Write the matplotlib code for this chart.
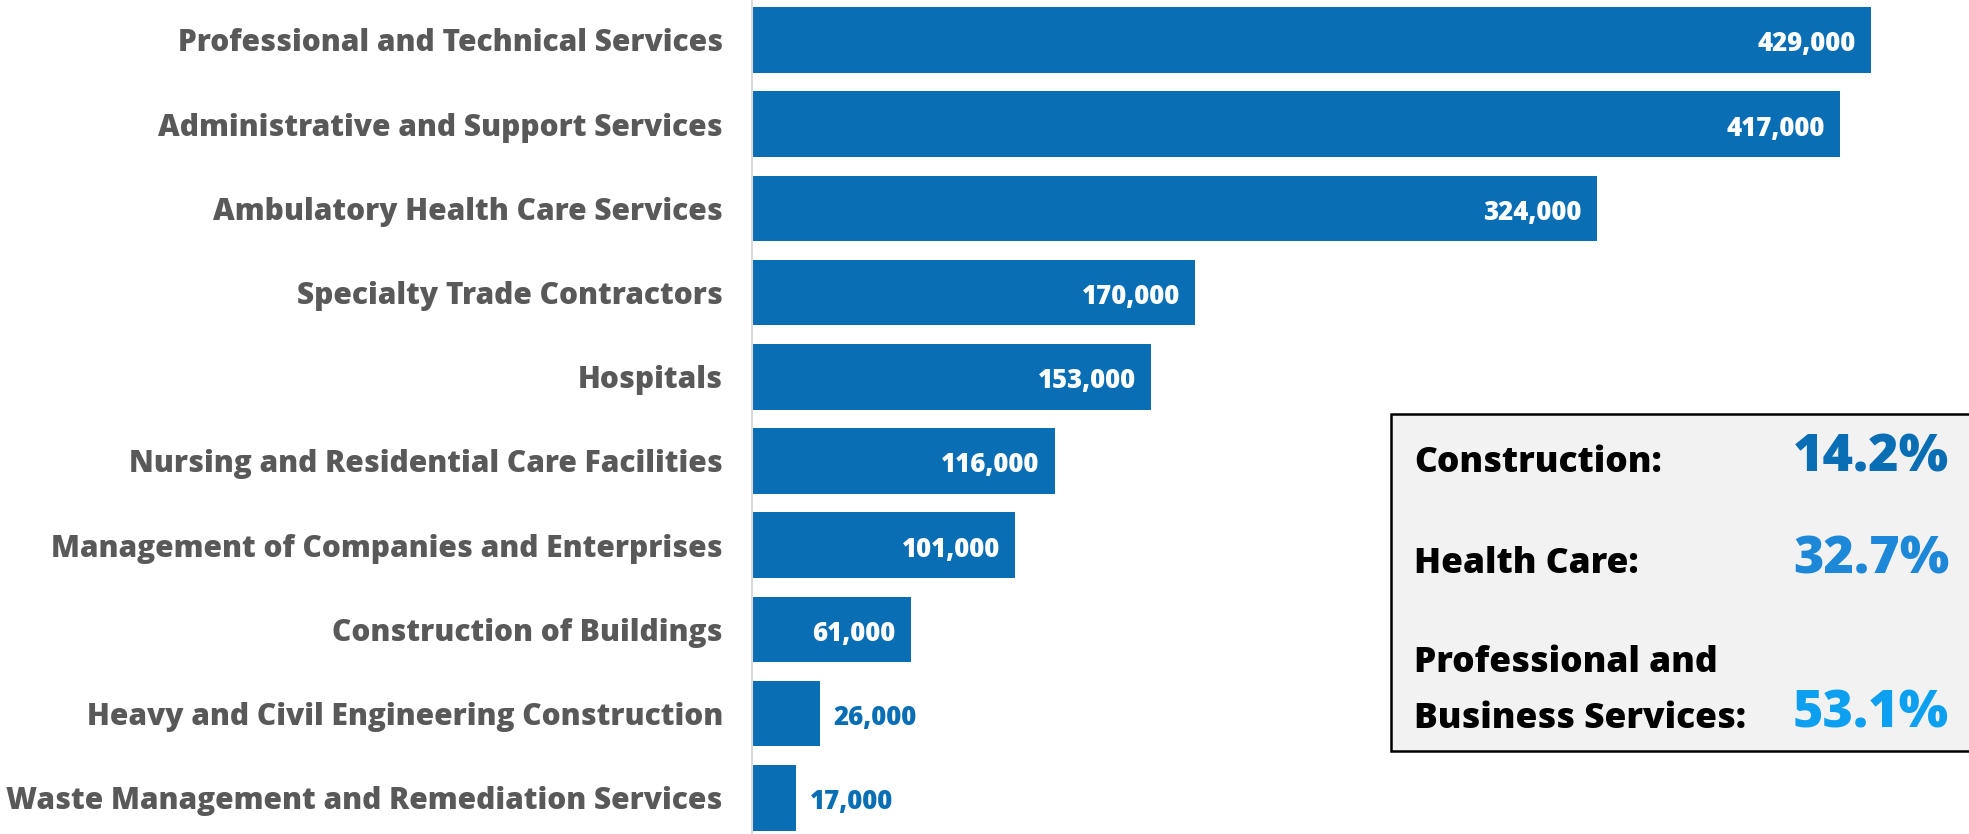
import matplotlib
matplotlib.use("Agg")
import matplotlib.pyplot as plt
from matplotlib.patches import Rectangle

plt.rcParams['font.family'] = ['Open Sans', 'DejaVu Sans']

industries = [
    "Professional and Technical Services",
    "Administrative and Support Services",
    "Ambulatory Health Care Services",
    "Specialty Trade Contractors",
    "Hospitals",
    "Nursing and Residential Care Facilities",
    "Management of Companies and Enterprises",
    "Construction of Buildings",
    "Heavy and Civil Engineering Construction",
    "Waste Management and Remediation Services",
]
jobs = [429000, 417000, 324000, 170000, 153000, 116000, 101000, 61000, 26000, 17000]

box_labels = ["Construction:", "Health Care:", "Professional and\nBusiness Services:"]
box_values = ["14.2%", "32.7%", "53.1%"]
box_colors = ["#0A6EB4", "#1E88D8", "#0DA0F0"]

W, H = 1969, 834
fig = plt.figure(figsize=(W / 100, H / 100), dpi=100)
ax = fig.add_axes([752 / W, 0, 1 - 752 / W, 1])

bar_color = "#0A6EB4"
ypos = list(range(len(jobs)))
ax.barh(ypos, jobs, height=0.78, color=bar_color)

ax.set_xlim(0, 429000 * (W - 752) / (1871 - 752))
ax.set_ylim(9.43, -0.475)
ax.set_yticks(ypos)
ax.set_yticklabels(industries, fontsize=21.5, fontweight=800, color="#595959")
ax.tick_params(axis='y', length=0, pad=21)
ax.set_xticks([])
for s in ["top", "right", "bottom"]:
    ax.spines[s].set_visible(False)
ax.spines["left"].set_color("#D9D9D9")
ax.spines["left"].set_linewidth(1.5)

for y, v in zip(ypos, jobs):
    txt = f"{v:,}"
    if v > 50000:
        ax.annotate(txt, (v, y), xytext=(-11, -1), textcoords='offset points',
                    ha='right', va='center_baseline', color='white', fontsize=18.5, fontweight=800)
    else:
        ax.annotate(txt, (v, y), xytext=(10, -1), textcoords='offset points',
                    ha='left', va='center_baseline', color=bar_color, fontsize=18.5, fontweight=800)


def fx(x):
    return x / W


def fy(y):
    return 1 - y / H


fig.patches.append(Rectangle((fx(1391), fy(751)), fx(W + 5) - fx(1391), fy(414) - fy(751),
                             transform=fig.transFigure, facecolor="#F2F2F2",
                             edgecolor="black", linewidth=1.8, zorder=5))

label_base = [472, 573, 728]
for lab, val, col, yb in zip(box_labels, box_values, box_colors, label_base):
    lines = lab.split("\n")
    for k, line in enumerate(lines):
        yl = yb - 56 * (len(lines) - 1 - k)
        fig.text(fx(1414), fy(yl), line, ha='left', va='baseline', fontsize=25.5,
                 fontweight=800, color='black', zorder=6)
    fig.text(fx(1949), fy(yb), val, ha='right', va='baseline', fontsize=37.5,
             fontweight=800, color=col, zorder=6)

fig.savefig("out.png", dpi=100)
